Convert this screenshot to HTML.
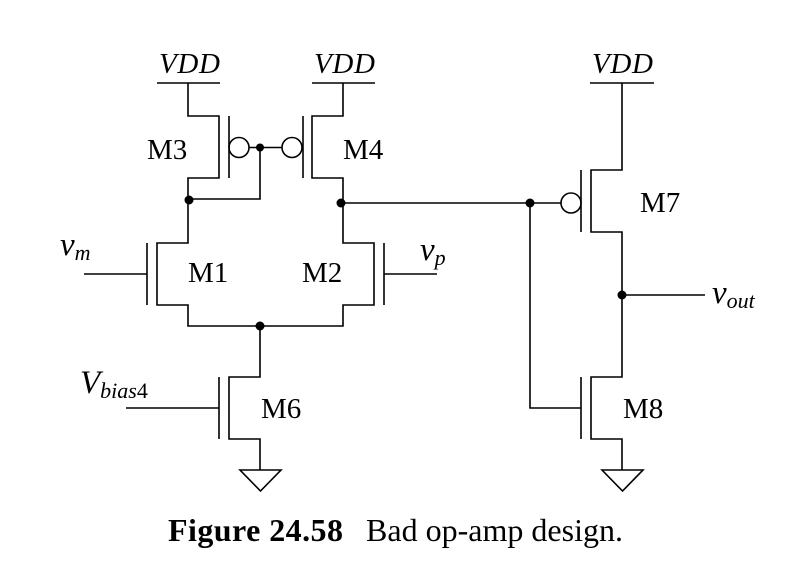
<!DOCTYPE html>
<html><head><style>body{margin:0;background:#fff}svg{display:block}</style></head>
<body>
<svg width="785" height="577" viewBox="0 0 785 577" xmlns="http://www.w3.org/2000/svg" font-family="Liberation Serif, serif">
<g stroke="#000" stroke-width="1.6" fill="none">
<line x1="157" y1="83" x2="220" y2="83"/><line x1="312" y1="83" x2="375" y2="83"/><line x1="590" y1="83" x2="654" y2="83"/>
<polyline points="188,83 188,116 219,116 219,178 188,178 188,243 157,243 157,305 188,305 188,326 343,326 343,305 374,305 374,243 343,243 343,178 312,178 312,116 343,116 343,83"/>
<line x1="229" y1="116" x2="229" y2="178"/><line x1="303" y1="116" x2="303" y2="178"/>
<circle cx="239" cy="147.5" r="10"/><circle cx="292" cy="147.5" r="10"/>
<line x1="249" y1="147.5" x2="282" y2="147.5"/>
<polyline points="188,199 260,199 260,147.5"/>
<line x1="147" y1="243" x2="147" y2="305"/><line x1="384" y1="243" x2="384" y2="305"/>
<line x1="84" y1="274" x2="147" y2="274"/><line x1="384" y1="274" x2="437" y2="274"/>
<polyline points="260,326 260,377 229,377 229,439 260,439 260,470"/>
<line x1="219" y1="377" x2="219" y2="439"/><line x1="126" y1="408" x2="219" y2="408"/>
<polygon points="240,470 281,470 260.5,491"/>
<line x1="343" y1="203" x2="561" y2="203"/>
<circle cx="571" cy="203" r="10"/>
<line x1="581" y1="170" x2="581" y2="232"/>
<polyline points="622,83 622,170 591,170 591,232 622,232 622,377 591,377 591,439 622,439 622,470"/>
<polygon points="602,470 643,470 622.5,491"/>
<polyline points="530,203 530,408 581,408"/>
<line x1="581" y1="377" x2="581" y2="439"/>
<line x1="622" y1="295" x2="705" y2="295"/>
</g>
<g fill="#000">
<circle cx="260" cy="147.5" r="4"/><circle cx="189" cy="200" r="4.5"/><circle cx="341" cy="203" r="4.5"/>
<circle cx="260" cy="326" r="4.5"/><circle cx="530" cy="203" r="4.5"/><circle cx="622" cy="295" r="4.5"/>
</g>
<g font-size="29" fill="#000">
<text x="159" y="73" font-style="italic" textLength="61">VDD</text>
<text x="314" y="73" font-style="italic" textLength="61">VDD</text>
<text x="592" y="73" font-style="italic" textLength="61">VDD</text>
<text x="147" y="159">M3</text>
<text x="343" y="159">M4</text>
<text x="188" y="282">M1</text>
<text x="302" y="282">M2</text>
<text x="261" y="418">M6</text>
<text x="640" y="212">M7</text>
<text x="623" y="418">M8</text>
<text x="60" y="255" font-style="italic" font-size="33">v<tspan font-size="22" dy="5">m</tspan></text>
<text x="420" y="260" font-style="italic" font-size="33">v<tspan font-size="22" dy="5">p</tspan></text>
<text x="80" y="393" font-style="italic" font-size="33">V<tspan font-size="22" dy="5">bias</tspan><tspan font-style="normal" font-size="22">4</tspan></text>
<text x="712" y="303" font-style="italic" font-size="33">v<tspan font-size="22" dy="5">out</tspan></text>
<text x="168" y="541" font-size="32" font-weight="bold" textLength="175">Figure 24.58</text>
<text x="366" y="541" font-size="32" textLength="257">Bad op-amp design.</text>
</g>
</svg>
</body></html>
